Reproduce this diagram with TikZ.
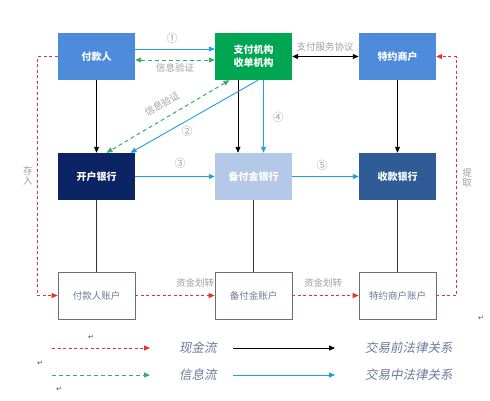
\documentclass[tikz,border=0pt]{standalone}
\usepackage{fontspec}
\usetikzlibrary{arrows.meta,calc}
\newfontfamily\cjk{Noto Sans CJK SC}
\newfontfamily\cjkit[FakeSlant=0.2]{Noto Sans CJK SC}
\newfontfamily\dejavu{DejaVu Sans}
\definecolor{cpay}{HTML}{4F8BDB}
\definecolor{cgreen}{HTML}{00A651}
\definecolor{cnavy}{HTML}{0C2463}
\definecolor{clight}{HTML}{B4C9E8}
\definecolor{cshou}{HTML}{2F5C96}
\definecolor{cacc}{HTML}{5E7A5E}
\definecolor{cblue}{HTML}{1EA0DC}
\definecolor{cgdash}{HTML}{3AAA6A}
\definecolor{cred}{HTML}{E8302F}
\definecolor{clab}{HTML}{A0A0A0}
\definecolor{cleg}{HTML}{6A7A99}
\tikzset{
  box/.style={rectangle, minimum width=77pt, minimum height=47pt, inner sep=0pt, font=\cjk\bfseries\fontsize{10}{13}\selectfont, text=white, align=center},
  accbox/.style={rectangle, draw=cacc, line width=0.8pt, fill=white, minimum width=77pt, minimum height=47pt, inner sep=0pt, font=\cjk\fontsize{9.5}{11}\selectfont, text=cleg},
  tip/.style={-{Triangle[length=6pt,width=5pt]}},
  dtip/.style={{Triangle[length=6pt,width=5pt]}-{Triangle[length=6pt,width=5pt]}},
  bluearr/.style={tip, draw=cblue, line width=0.9pt},
  blackarr/.style={tip, draw=black, line width=0.9pt},
  redarr/.style={tip, draw=cred, line width=1pt, dash pattern=on 3pt off 2.5pt},
  greenarr/.style={dtip, draw=cgdash, line width=1pt, dash pattern=on 4pt off 3pt},
  lab/.style={font=\cjk\fontsize{9.5}{10.5}\selectfont, text=clab, inner sep=0.5pt},
  num/.style={font=\cjk\fontsize{11}{12}\selectfont, text=clab, inner sep=0.5pt},
  legtext/.style={font=\cjkit\fontsize{12.5}{13}\selectfont, text=cleg, anchor=west, inner sep=0pt},
  ret/.style={font=\dejavu\fontsize{7}{8}\selectfont, text=black!70, inner sep=0pt}
}
\begin{document}
\begin{tikzpicture}[x=1pt,y=-1pt]
\useasboundingbox[fill=white] (0,0) rectangle (490,400);
% top row
\node[box, fill=cpay] (pay) at (96.5,56.5) {付款人};
\node[box, fill=cgreen] (psp) at (253.5,56.5) {支付机构\\收单机构};
\node[box, fill=cpay] (mer) at (397.5,56.5) {特约商户};
% middle row
\node[box, fill=cnavy] (kh) at (96.5,176.5) {开户银行};
\node[box, fill=clight] (bfj) at (253.5,176.5) {备付金银行};
\node[box, fill=cshou] (sk) at (397.5,176.5) {收款银行};
% bottom row
\node[accbox] (pa) at (96.5,295.5) {付款人账户};
\node[accbox] (ba) at (253.5,295.5) {备付金账户};
\node[accbox] (ma) at (397.5,295.5) {特约商户账户};

% top horizontal
\draw[bluearr] ([yshift=7.5pt]pay.east) -- ([yshift=7.5pt]psp.west);
\node[num] (n1) at (172,38) {①};
\draw[greenarr] ([yshift=-3.5pt]pay.east) -- ([yshift=-3.5pt]psp.west);
\node[lab] (l1) at (175,68) {信息验证};
\draw[dtip, draw=black, line width=0.9pt] (psp.east) -- (mer.west);
\node[lab] (l2) at (325,47) {支付服务协议};

% verticals top -> middle
\draw[blackarr] (pay.south) -- (kh.north);
\draw[blackarr] ([xshift=-15.5pt]psp.south) -- ([xshift=-15.5pt]bfj.north);
\draw[bluearr] ([xshift=10pt]psp.south) -- ([xshift=10pt]bfj.north);
\node[num] (n4) at (278,117) {④};
\draw[blackarr] (mer.south) -- (sk.north);

% diagonals
\draw[greenarr] ([xshift=-24pt]psp.south) -- ([xshift=10pt]kh.north);
\node[lab, rotate=30] (l3) at (162,104) {信息验证};
\draw[bluearr] ([xshift=4.5pt]psp.south) -- ([xshift=34pt]kh.north);
\node[num] (n2) at (187,131) {②};

% middle horizontal
\draw[bluearr] (kh.east) -- (bfj.west);
\node[num] (n3) at (180,163) {③};
\draw[bluearr] (bfj.east) -- (sk.west);
\node[num] (n5) at (322,165) {⑤};

% middle -> bottom
\draw[black!80, line width=0.9pt] (kh.south) -- (pa.north);
\draw[black!80, line width=0.9pt] (bfj.south) -- (ba.north);
\draw[black!80, line width=0.9pt] (sk.south) -- (ma.north);

% red flows
\draw[redarr] (pay.west) -- ++(-20,0) |- (pa.west);
\node[lab, align=center] (l4) at (28,176) {存\\入};
\draw[redarr] (pa.east) -- (ba.west);
\node[lab] (l5) at (195,283) {资金划转};
\draw[redarr] (ba.east) -- (ma.west);
\node[lab] (l6) at (323,283) {资金划转};
\draw[redarr] (ma.east) -- ++(20,0) |- (mer.east);
\node[lab, align=center] (l7) at (467,178) {提\\取};

% legend
\coordinate (r1) at (52,348); \coordinate (r2) at (150,348);
\draw[redarr] (r1) -- (r2);
\node[legtext] (t1) at (179,348) {现金流};
\coordinate (k1) at (233,348); \coordinate (k2) at (335,348);
\draw[blackarr] (k1) -- (k2);
\node[legtext] (t2) at (365,348) {交易前法律关系};
\coordinate (g1) at (52,375); \coordinate (g2) at (150,375);
\draw[tip, draw=cgdash, line width=1pt, dash pattern=on 4pt off 3pt] (g1) -- (g2);
\node[legtext] (t3) at (179,375) {信息流};
\coordinate (b1) at (233,375); \coordinate (b2) at (335,375);
\draw[bluearr] (b1) -- (b2);
\node[legtext] (t4) at (365,375) {交易中法律关系};

% return marks
\node[ret] (m1) at (91,337) {↵};
\node[ret] (m2) at (40,363) {↵};
\node[ret] (m3) at (59,389) {↵};
\node[ret] (m4) at (481,318) {↵};
\end{tikzpicture}
\end{document}
